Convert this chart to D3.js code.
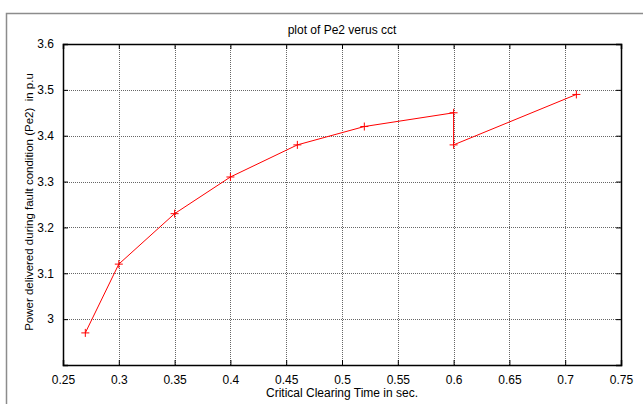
<!DOCTYPE html>
<html>
<head>
<meta charset="utf-8">
<script src="https://cdn.jsdelivr.net/npm/d3@7"></script>
<style>
  body { margin: 0; background: #fff; }
  text { font-family: 'Liberation Sans', Arial, sans-serif; fill: #000; }
</style>
</head>
<body>
<svg></svg>
<script>
// data
let cct = [0.27, 0.3, 0.35, 0.4, 0.46, 0.52, 0.6, 0.6, 0.71];
let pe2 = [2.97, 3.12, 3.23, 3.31, 3.38, 3.42, 3.45, 3.38, 3.49];
let xTicks = [0.25, 0.3, 0.35, 0.4, 0.45, 0.5, 0.55, 0.6, 0.65, 0.7, 0.75];
let yTicks = [3, 3.1, 3.2, 3.3, 3.4, 3.5, 3.6];

let width = 643;
let height = 404;
let padLeft = 63, padRight = 621, padTop = 44, padBottom = 365;

let svg = d3.select('svg')
    .attr('width', width)
    .attr('height', height);

// figure frame
svg.append('path')
    .attr('d', 'M6.5,' + height + 'V13.5H' + width)
    .attr('fill', 'none')
    .attr('stroke', '#8c8c8c')
    .attr('stroke-width', 1.5);

let xScale = d3.scaleLinear().domain([0.25, 0.75]).range([padLeft, padRight]);
let yScale = d3.scaleLinear().domain([2.9, 3.6]).range([padBottom, padTop]);

// grid
svg.append('g')
    .selectAll('line')
    .data(xTicks.slice(1, -1))
    .enter()
    .append('line')
    .attr('x1', d => Math.round(xScale(d)) + 0.5)
    .attr('x2', d => Math.round(xScale(d)) + 0.5)
    .attr('y1', padTop)
    .attr('y2', padBottom)
    .attr('stroke', '#666')
    .attr('stroke-dasharray', '1,1');

svg.append('g')
    .selectAll('line')
    .data(yTicks.slice(0, -1))
    .enter()
    .append('line')
    .attr('y1', d => Math.round(yScale(d)) + 0.5)
    .attr('y2', d => Math.round(yScale(d)) + 0.5)
    .attr('x1', padLeft)
    .attr('x2', padRight)
    .attr('stroke', '#666')
    .attr('stroke-dasharray', '1,1');

// axes with inward ticks
let xAxis = d3.axisBottom(xScale).tickValues(xTicks).tickSize(-5).tickPadding(10).tickFormat(d3.format('~g'));
let xTop = d3.axisTop(xScale).tickValues(xTicks).tickSize(-5).tickFormat('');
let yAxis = d3.axisLeft(yScale).tickValues(yTicks).tickSize(-5).tickPadding(9).tickFormat(d3.format('~g'));
let yRight = d3.axisRight(yScale).tickValues(yTicks).tickSize(-5).tickFormat('');

let gx = svg.append('g').attr('transform', 'translate(0,' + padBottom + ')').call(xAxis);
let gxt = svg.append('g').attr('transform', 'translate(0,' + padTop + ')').call(xTop);
let gy = svg.append('g').attr('transform', 'translate(' + padLeft + ',0)').call(yAxis);
let gyr = svg.append('g').attr('transform', 'translate(' + padRight + ',0)').call(yRight);

[gx, gxt, gy, gyr].forEach(g => {
    g.attr('font-family', null).attr('font-size', null);
    g.select('.domain').attr('stroke-width', 1.5).attr('stroke', '#000');
    g.selectAll('.tick line').attr('stroke', '#000');
    g.selectAll('text').style('font-size', '12px');
});

// line + markers
let pts = cct.map((d, i) => [d, pe2[i]]);

svg.append('path')
    .datum(pts)
    .attr('fill', 'none')
    .attr('stroke', '#ff0000')
    .attr('stroke-width', 1)
    .attr('d', d3.line().x(d => xScale(d[0])).y(d => yScale(d[1])));

svg.append('g')
    .selectAll('path')
    .data(pts)
    .enter()
    .append('path')
    .attr('d', d => {
        let x = xScale(d[0]), y = yScale(d[1]);
        return 'M' + (x - 4) + ',' + y + 'H' + (x + 4) + 'M' + x + ',' + (y - 4) + 'V' + (y + 4);
    })
    .attr('stroke', '#ff0000')
    .attr('stroke-width', 1);

// titles
svg.append('text')
    .attr('x', (padLeft + padRight) / 2)
    .attr('y', 34)
    .attr('text-anchor', 'middle')
    .style('font-size', '12px')
    .text('plot of Pe2 verus cct');

svg.append('text')
    .attr('x', (padLeft + padRight) / 2)
    .attr('y', 397)
    .attr('text-anchor', 'middle')
    .style('font-size', '12px')
    .text('Critical Clearing Time in sec.');

svg.append('text')
    .attr('transform', 'translate(33,202) rotate(-90)')
    .attr('text-anchor', 'middle')
    .style('font-size', '11.5px')
    .style('white-space', 'pre')
    .text('Power delivered during fault condition (Pe2)  in p.u');
</script>
</body>
</html>
